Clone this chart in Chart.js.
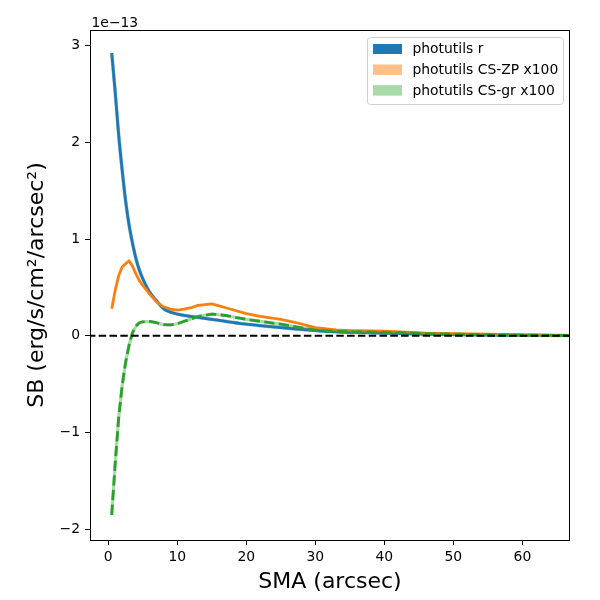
<!DOCTYPE html>
<html>
<head>
<meta charset="utf-8">
<script src="https://cdn.jsdelivr.net/npm/chart.js@4"></script>
<style>
  body { margin: 0; background: #fff; }
  #wrap { width: 600px; height: 600px; }
</style>
</head>
<body>
<div id="wrap"><canvas id="sbChart" width="600" height="600"></canvas></div>
<script>
// semi-major axis (arcsec) and surface brightness in units of 1e-13 erg/s/cm2/arcsec2
const smaArcsec = [0.5, 1, 1.5, 2, 2.5, 3, 3.5, 4, 4.5, 5, 6, 7, 8, 9, 10, 11, 12, 13, 15, 17,
  20, 22, 25, 27, 30, 33, 36, 40, 43, 46, 50, 55, 60, 67];
const sbR = [2.92, 2.52, 2.08, 1.72, 1.40, 1.15, 0.96, 0.80, 0.68, 0.59, 0.45, 0.36, 0.28, 0.245,
  0.225, 0.21, 0.20, 0.19, 0.17, 0.15, 0.12, 0.105, 0.085, 0.072, 0.055, 0.042, 0.035, 0.028,
  0.022, 0.017, 0.012, 0.008, 0.005, 0.003];
const sbCsZp = [0.28, 0.47, 0.62, 0.71, 0.745, 0.775, 0.72, 0.64, 0.57, 0.52, 0.43, 0.35, 0.30,
  0.275, 0.265, 0.275, 0.29, 0.315, 0.33, 0.29, 0.23, 0.20, 0.17, 0.14, 0.085, 0.060, 0.052,
  0.048, 0.038, 0.028, 0.022, 0.016, 0.010, 0.004];
const sbCsGr = [-1.85, -1.32, -0.85, -0.52, -0.28, -0.10, 0.03, 0.10, 0.135, 0.145, 0.148, 0.135,
  0.115, 0.112, 0.125, 0.15, 0.175, 0.20, 0.225, 0.21, 0.17, 0.15, 0.12, 0.095, 0.058, 0.045,
  0.040, 0.035, 0.030, 0.022, 0.016, 0.011, 0.007, 0.003];
const legendLabels = ['photutils r', 'photutils CS-ZP x100', 'photutils CS-gr x100'];
const xTicks = [0, 10, 20, 30, 40, 50, 60];
const yTicks = [-2, -1, 0, 1, 2, 3];

const xMin = -2.65, xMax = 66.9;
const yMin = -2.11, yMax = 3.16;

const FONT = "'DejaVu Sans', sans-serif";
const pts = arr => arr.map((v, i) => ({ x: smaArcsec[i], y: v }));

const baseLine = { pointRadius: 0, fill: false, tension: 0, borderJoinStyle: 'round', borderCapStyle: 'butt' };

const datasets = [
  { ...baseLine, label: 'zero', data: [{ x: xMin - 5, y: 0 }, { x: xMax + 5, y: 0 }],
    borderColor: '#000', borderWidth: 2, borderDash: [7.5, 3.3], order: 0 },
  { ...baseLine, label: legendLabels[2], data: pts(sbCsGr),
    borderColor: '#2ca02c', borderWidth: 2.8, borderDash: [10.3, 4.4], order: 1 },
  { ...baseLine, label: 'gr band', data: pts(sbCsGr),
    borderColor: 'rgba(44,160,44,0.4)', borderWidth: 3.2, order: 2 },
  { ...baseLine, label: legendLabels[1], data: pts(sbCsZp),
    borderColor: '#ff7f0e', borderWidth: 2.8, order: 3 },
  { ...baseLine, label: legendLabels[0], data: pts(sbR),
    borderColor: '#1f77b4', borderWidth: 2.8, cubicInterpolationMode: 'monotone', order: 4 },
  { ...baseLine, label: 'r band', data: pts(sbR),
    borderColor: 'rgba(31,119,180,0.4)', borderWidth: 3.6, cubicInterpolationMode: 'monotone', order: 5 }
];

// frame, exponent label and legend box drawn like matplotlib
const decorPlugin = {
  id: 'decor',
  afterDatasetsDraw(chart) {
    const { ctx, chartArea: a } = chart;
    ctx.save();
    ctx.strokeStyle = '#000';
    ctx.lineWidth = 1;
    ctx.strokeRect(Math.round(a.left) + 0.5, Math.round(a.top) + 0.5,
      Math.round(a.right - a.left) - 1, Math.round(a.bottom - a.top));
    ctx.fillStyle = '#000';
    ctx.font = '13.9px ' + FONT;
    ctx.textBaseline = 'alphabetic';
    ctx.textAlign = 'left';
    ctx.fillText('1e\u221213', a.left + 1.5, a.top - 3);

    // legend
    const bx = 367, by = 37, bw = 196, bh = 67;
    ctx.beginPath();
    ctx.roundRect(bx + 0.5, by + 0.5, bw, bh, 3);
    ctx.fillStyle = 'rgba(255,255,255,0.8)';
    ctx.fill();
    ctx.strokeStyle = '#d0d0d0';
    ctx.stroke();
    const patchColors = ['#1f77b4', '#ffbf87', '#aad9aa'];
    const patchEdge = ['#1f77b4', '#ffbf87', '#aad9aa'];
    legendLabels.forEach((lab, i) => {
      const cy = by + 12 + i * 20.7;
      ctx.fillStyle = patchColors[i];
      ctx.fillRect(bx + 6, cy - 5, 29, 10);
      ctx.strokeStyle = patchEdge[i];
      ctx.strokeRect(bx + 6.5, cy - 4.5, 28, 9);
      ctx.fillStyle = '#000';
      ctx.textBaseline = 'middle';
      ctx.fillText(lab, bx + 45.5, cy + 0.5);
    });
    ctx.restore();
  }
};

new Chart(document.getElementById('sbChart'), {
  type: 'line',
  data: { datasets },
  options: {
    responsive: false,
    animation: false,
    layout: { padding: { top: 30, right: 30, left: 0, bottom: 0 } },
    plugins: { legend: { display: false }, tooltip: { enabled: false } },
    scales: {
      x: {
        type: 'linear',
        min: xMin,
        max: xMax,
        afterFit: s => { s.height = 60; },
        afterBuildTicks: s => { s.ticks = xTicks.map(v => ({ value: v })); },
        grid: { drawOnChartArea: false, tickLength: 5, color: '#000', tickWidth: 1 },
        border: { display: false },
        ticks: { color: '#000', padding: 4, maxRotation: 0, font: { family: FONT, size: 13.9 } },
        title: { display: true, text: 'SMA (arcsec)', color: '#000',
          font: { family: FONT, size: 22 }, padding: { top: 0, bottom: 5 } }
      },
      y: {
        type: 'linear',
        min: yMin,
        max: yMax,
        afterFit: s => { s.width = 90; },
        afterBuildTicks: s => { s.ticks = yTicks.map(v => ({ value: v })); },
        grid: { drawOnChartArea: false, tickLength: 5, color: '#000', tickWidth: 1 },
        border: { display: false },
        ticks: { color: '#000', padding: 5, font: { family: FONT, size: 13.9 },
          callback: v => String(v).replace('-', '\u2212') },
        title: { display: true, text: 'SB (erg/s/cm\u00b2/arcsec\u00b2)', color: '#000',
          font: { family: FONT, size: 22 }, padding: { top: 24, bottom: 0 } }
      }
    }
  },
  plugins: [decorPlugin]
});
</script>
</body>
</html>
